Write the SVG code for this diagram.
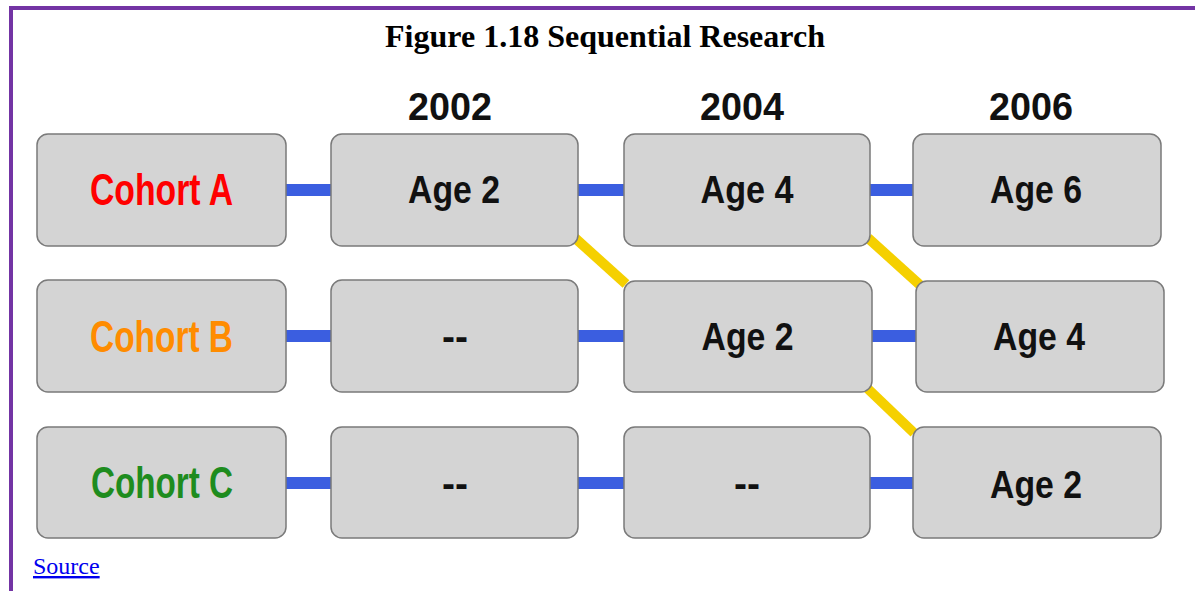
<svg xmlns="http://www.w3.org/2000/svg" width="1195" height="591" viewBox="0 0 1195 591">
<style>
.box{fill:#d4d4d4;stroke:#7a7a7a;stroke-width:1.5}
.lbl{font-family:"Liberation Sans",Arial,sans-serif;font-weight:bold;text-anchor:middle}
.age{font-size:39px;fill:#111}
.coh{font-size:44px}
.yr{font-size:38px;fill:#111}
.blue{stroke:#3b5ee0;stroke-width:12;fill:none}
.yel{stroke:#f5d000;stroke-width:10;fill:none}
</style>
<rect x="0" y="0" width="1195" height="591" fill="#ffffff"/>
<g id="frame" fill="#7334a4">
<rect x="9" y="6" width="1186" height="4"/>
<rect x="9" y="6" width="4" height="585"/>
</g>
<text id="title" x="605" y="47" font-family="'Liberation Serif','Times New Roman',serif" font-weight="bold" font-size="32" text-anchor="middle" textLength="440" lengthAdjust="spacingAndGlyphs">Figure 1.18 Sequential Research</text>
<g id="years" class="lbl yr">
<text x="450" y="120" textLength="84" lengthAdjust="spacingAndGlyphs">2002</text>
<text x="742" y="120" textLength="84" lengthAdjust="spacingAndGlyphs">2004</text>
<text x="1031" y="120" textLength="84" lengthAdjust="spacingAndGlyphs">2006</text>
</g>
<g id="connectors">
<line class="blue" x1="286" y1="190" x2="331" y2="190"/>
<line class="blue" x1="578" y1="190" x2="624" y2="190"/>
<line class="blue" x1="870" y1="190" x2="913" y2="190"/>
<line class="blue" x1="286" y1="336" x2="331" y2="336"/>
<line class="blue" x1="578" y1="336" x2="624" y2="336"/>
<line class="blue" x1="872" y1="336" x2="916" y2="336"/>
<line class="blue" x1="286" y1="483" x2="331" y2="483"/>
<line class="blue" x1="578" y1="483" x2="624" y2="483"/>
<line class="blue" x1="870" y1="483" x2="913" y2="483"/>
<line class="yel" x1="575" y1="238" x2="626" y2="284"/>
<line class="yel" x1="868" y1="238" x2="920" y2="285"/>
<line class="yel" x1="867" y1="388" x2="914" y2="433"/>
</g>
<g id="cohortA"><rect class="box" x="37" y="134" width="249" height="112" rx="11"/><text class="lbl coh" x="161.5" y="205" fill="#ff0000" textLength="143" lengthAdjust="spacingAndGlyphs">Cohort A</text></g>
<g id="a2002"><rect class="box" x="331" y="134" width="247" height="112" rx="11"/><text class="lbl age" x="454" y="203" textLength="92" lengthAdjust="spacingAndGlyphs">Age 2</text></g>
<g id="a2004"><rect class="box" x="624" y="134" width="246" height="112" rx="11"/><text class="lbl age" x="747" y="203" textLength="93" lengthAdjust="spacingAndGlyphs">Age 4</text></g>
<g id="a2006"><rect class="box" x="913" y="134" width="248" height="112" rx="11"/><text class="lbl age" x="1036" y="203" textLength="92" lengthAdjust="spacingAndGlyphs">Age 6</text></g>
<g id="cohortB"><rect class="box" x="37" y="280" width="249" height="112" rx="11"/><text class="lbl coh" x="161.5" y="352" fill="#ff8c00" textLength="143" lengthAdjust="spacingAndGlyphs">Cohort B</text></g>
<g id="b2002"><rect class="box" x="331" y="280" width="247" height="112" rx="11"/><text class="lbl age" x="455" y="350">--</text></g>
<g id="b2004"><rect class="box" x="624" y="281" width="248" height="111" rx="11"/><text class="lbl age" x="747.5" y="350" textLength="92" lengthAdjust="spacingAndGlyphs">Age 2</text></g>
<g id="b2006"><rect class="box" x="916" y="281" width="248" height="111" rx="11"/><text class="lbl age" x="1039" y="350" textLength="92" lengthAdjust="spacingAndGlyphs">Age 4</text></g>
<g id="cohortC"><rect class="box" x="37" y="427" width="249" height="111" rx="11"/><text class="lbl coh" x="162" y="498" fill="#1e8c1e" textLength="142" lengthAdjust="spacingAndGlyphs">Cohort C</text></g>
<g id="c2002"><rect class="box" x="331" y="427" width="247" height="111" rx="11"/><text class="lbl age" x="455" y="497">--</text></g>
<g id="c2004"><rect class="box" x="624" y="427" width="246" height="111" rx="11"/><text class="lbl age" x="747" y="497">--</text></g>
<g id="c2006"><rect class="box" x="913" y="427" width="248" height="111" rx="11"/><text class="lbl age" x="1036" y="498" textLength="92" lengthAdjust="spacingAndGlyphs">Age 2</text></g>
<text id="source" x="33" y="574" font-family="'Liberation Serif','Times New Roman',serif" font-size="24" fill="#0000ee" text-decoration="underline">Source</text>
</svg>
